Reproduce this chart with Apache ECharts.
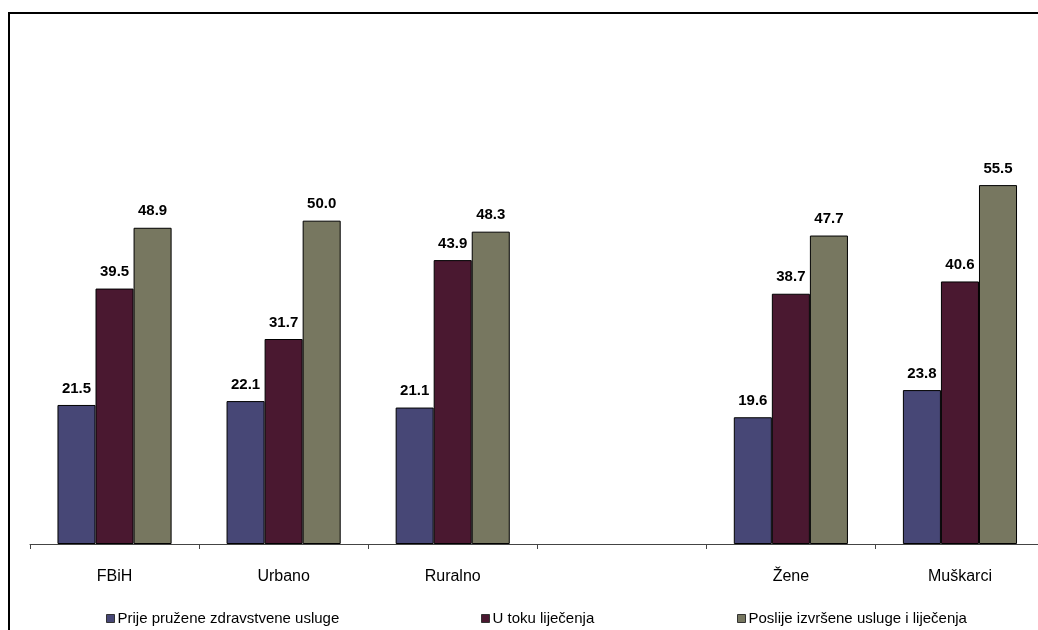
<!DOCTYPE html>
<html>
<head>
<meta charset="utf-8">
<script src="https://cdn.jsdelivr.net/npm/echarts@6/dist/echarts.min.js"></script>
<style>
html,body{margin:0;padding:0;background:#fff;overflow:hidden;width:1038px;height:630px;}
#c{width:1060px;height:630px;}
</style>
</head>
<body>
<div id="c"></div>
<script>
const categories = ['FBiH', 'Urbano', 'Ruralno', '', 'Žene', 'Muškarci'];
const seriesNames = ['Prije pružene zdravstvene usluge', 'U toku liječenja', 'Poslije izvršene usluge i liječenja'];
const prije = [21.5, 22.1, 21.1, null, 19.6, 23.8];
const uToku = [39.5, 31.7, 43.9, null, 38.7, 40.6];
const poslije = [48.9, 50.0, 48.3, null, 47.7, 55.5];
const colors = ['#474776', '#4a1830', '#777760'];

const chart = echarts.init(document.getElementById('c'), null, {renderer: 'canvas'});
const font = 'Liberation Sans, Arial, sans-serif';
function mk(name, data, color) {
  return {
    name: name, type: 'bar', data: data,
    barCategoryGap: '32.5%', barGap: '0%',
    itemStyle: {color: color, borderColor: '#000', borderWidth: 1},
    label: {show: true, position: 'top', distance: 9, color: '#000', fontFamily: font, fontWeight: 'bold', fontSize: 15,
      formatter: p => p.value == null ? '' : Number(p.value).toFixed(1)},
    emphasis: {disabled: true}, animation: false
  };
}
function lg(i, left) {
  return {
    data: [seriesNames[i]], left: left, top: 606, icon: 'rect', itemWidth: 8, itemHeight: 8, itemGap: 0,
    textStyle: {fontFamily: font, fontSize: 15, color: '#000', padding: [0, 0, 0, -2]},
    itemStyle: {borderColor: '#333', borderWidth: 1}
  };
}
chart.setOption({
  animation: false,
  backgroundColor: '#fff',
  grid: {left: 30, top: 156, width: 1014.5, height: 388, containLabel: false},
  legend: [lg(0, 101), lg(1, 476), lg(2, 732)],
  xAxis: {
    type: 'category', data: categories,
    axisLine: {lineStyle: {color: '#444', width: 1}},
    axisTick: {show: true, length: 5, lineStyle: {color: '#444'}},
    axisLabel: {color: '#000', fontFamily: font, fontSize: 16, margin: 25}
  },
  yAxis: {type: 'value', min: 0, max: 60, show: false, splitLine: {show: false}},
  series: [mk(seriesNames[0], prije, colors[0]), mk(seriesNames[1], uToku, colors[1]), mk(seriesNames[2], poslije, colors[2])],
  graphic: [{type: 'rect', shape: {x: 9, y: 13, width: 1100, height: 700}, style: {fill: 'none', stroke: '#000', lineWidth: 2}, silent: true}]
});
</script>
</body>
</html>
